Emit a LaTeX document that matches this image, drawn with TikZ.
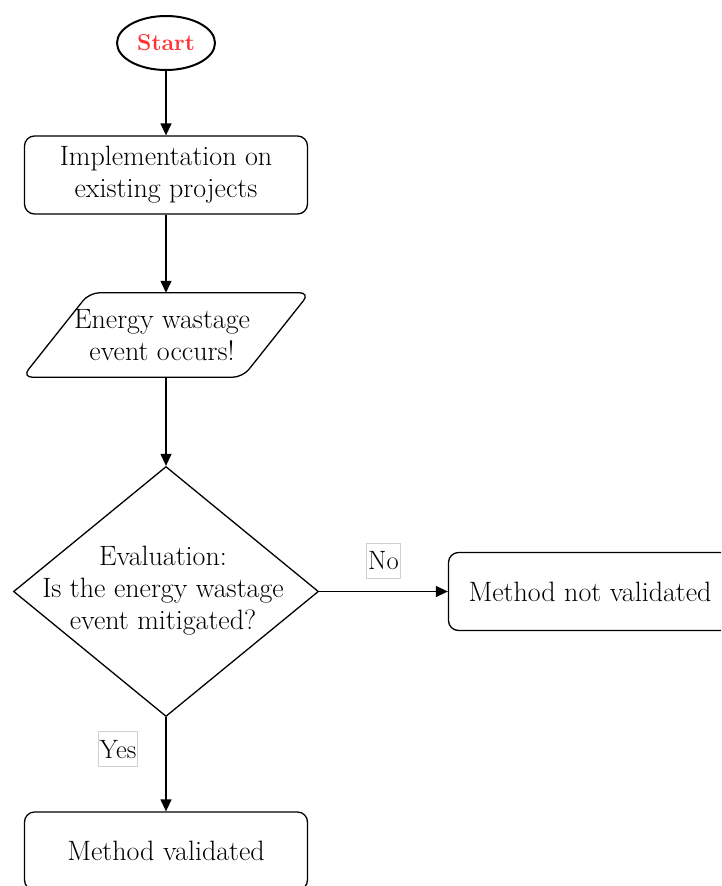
\documentclass[tikz,border=0pt]{standalone}
\usetikzlibrary{arrows.meta,shapes.geometric}
\definecolor{startred}{HTML}{FF3333}
\definecolor{tagline}{HTML}{D0D0D0}
\begin{document}
\begin{tikzpicture}[x=1pt,y=-1pt,
  every node/.style={font=\fontsize{28}{32}\selectfont, align=center, inner sep=0pt},
  box/.style={draw, line width=1.3pt, rounded corners=10pt, minimum width=283pt, minimum height=78pt},
  iobox/.style={minimum width=287pt, minimum height=84pt},
  shapeline/.style={line width=1.3pt, rounded corners=10pt},
  decision/.style={diamond, draw, line width=1.3pt, minimum width=305pt, minimum height=250pt},
  terminal/.style={ellipse, draw, line width=2pt, minimum width=98pt, minimum height=54pt,
    text=startred, font=\bfseries\fontsize{23}{26}\selectfont},
  flow/.style={draw, line width=1.3pt, -{Triangle[length=12pt,width=11pt]}},
  tag/.style={draw=tagline, line width=0.6pt, fill=white, inner xsep=1.5pt,
    minimum height=35pt, font=\fontsize{26.5}{28}\selectfont}
]
\useasboundingbox (0,0) rectangle (721,886);
\clip (0,0) rectangle (721,886);

% steps of the flow
\node[terminal] (start) at (166,43) {Start};
\node[box] (impl) at (166,175) {Implementation on\\existing projects};
\node[iobox] (event) at (166,335) {};
\node (eventtext) at (162,335) {Energy wastage\\event occurs!};
\draw[shapeline] (event.north) -- (event.north east)
  -- ([xshift=-67pt]event.south east) -- (event.south west)
  -- ([xshift=67pt]event.north west) -- cycle;
\node[decision] (eval) at (166,591.5) {};
\node (evaltext) at (163,591) {Evaluation:\\Is the energy wastage\\event mitigated?};
\node[box] (notval) at (590,591.5) {Method not validated};
\node[box] (val) at (166,851) {Method validated};

% connectors
\draw[flow] (start) -- (impl);
\draw[flow] (impl.south) -- (event.north);
\draw[flow] (event.south) -- (eval.north);
\draw[flow] (eval.east) -- node[tag, midway, yshift=31pt] {No} (notval.west);
\draw[flow] (eval.south) -- node[tag, pos=0.34, xshift=-48pt] {Yes} (val.north);
\end{tikzpicture}
\end{document}
